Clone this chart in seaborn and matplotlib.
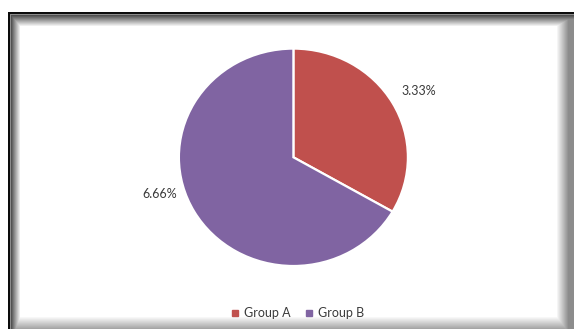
import numpy as np
import matplotlib
matplotlib.use("Agg")
import matplotlib.pyplot as plt
from matplotlib.lines import Line2D
import seaborn as sns

# Pie data
groups = ["Group A", "Group B"]
values = [3.33, 6.66]
value_labels = [f"{v:.2f}%" for v in values]
colors = ["#C0504D", "#8064A2"]

sns.set_theme(style="white")
plt.rcParams["font.family"] = ["Lato", "DejaVu Sans"]

W, H, DPI = 574, 329, 100
fig = plt.figure(figsize=(W / DPI, H / DPI), dpi=DPI)
fig.patch.set_facecolor("white")

# ---- chart frame with inner shadow (Office-style) ----
xs = np.arange(W)[None, :].astype(float)
ys = np.arange(H)[:, None].astype(float)
left = np.clip(1 - (xs - 10) / 10.0, 0, 1) * 0.75
top = np.clip(1 - (ys - 14) / 12.0, 0, 1) * 0.75
right = np.clip((xs - 556) / 12.0, 0, 1) * 0.45
bottom = np.clip((ys - 316) / 12.0, 0, 1) * 0.35
dark = np.maximum.reduce([np.broadcast_to(left, (H, W)),
                          np.broadcast_to(top, (H, W)),
                          np.broadcast_to(right, (H, W)),
                          np.broadcast_to(bottom, (H, W))])
inside = (xs >= 8) & (ys >= 12)
dark = np.where(inside, dark, 0.0)
border = ((xs >= 8) & (xs <= 9) & (ys >= 12)) | ((ys >= 12) & (ys <= 13) & (xs >= 8))
dark = np.where(border, 0.95, dark)
light = ((xs == 10) & (ys >= 14)) | ((ys == 14) & (xs >= 10))
dark = np.where(light, 0.45, dark)
img = np.ones((H, W, 3)) * (1 - dark)[..., None]
fig.figimage(img, xo=0, yo=0, origin="upper", zorder=-1)

# ---- pie (slightly wider than tall) ----
RX, RY = 114.5, 108.7    # pie radii in pixels
cx, cy = 293.4, 157.3    # pie centre in pixels (from top-left)
ax = fig.add_axes([0, 0, 1, 1])
ax.patch.set_alpha(0)
wedges, _ = ax.pie(values, colors=colors, startangle=90, counterclock=False,
                   wedgeprops=dict(edgecolor="white", linewidth=1.6))
ax.set_aspect("auto")
ax.set_xlim(-cx / RX, (W - cx) / RX)
ax.set_ylim(-(H - cy) / RY, cy / RY)
ax.axis("off")

# data labels placed outside the wedges
label_polar = [(29.1, 1.254), (196.2, 1.214)]
for txt, (ang, rr) in zip(value_labels, label_polar):
    a = np.deg2rad(ang)
    ax.text(rr * np.cos(a), rr * np.sin(a), txt, ha="center", va="center",
            fontsize=9, color="#3a3a3a")

# legend
handles = [Line2D([], [], marker="s", linestyle="none", markersize=4.5,
                  markerfacecolor=c, markeredgecolor=c) for c in colors]
fig.legend(handles, groups, loc="center", ncol=2, frameon=False,
           bbox_to_anchor=(297 / W, 1 - 313 / H), fontsize=9,
           handlelength=0.8, handletextpad=0.3, columnspacing=1.1,
           labelcolor="#3a3a3a")

fig.savefig("out.png", dpi=DPI, facecolor="white")
